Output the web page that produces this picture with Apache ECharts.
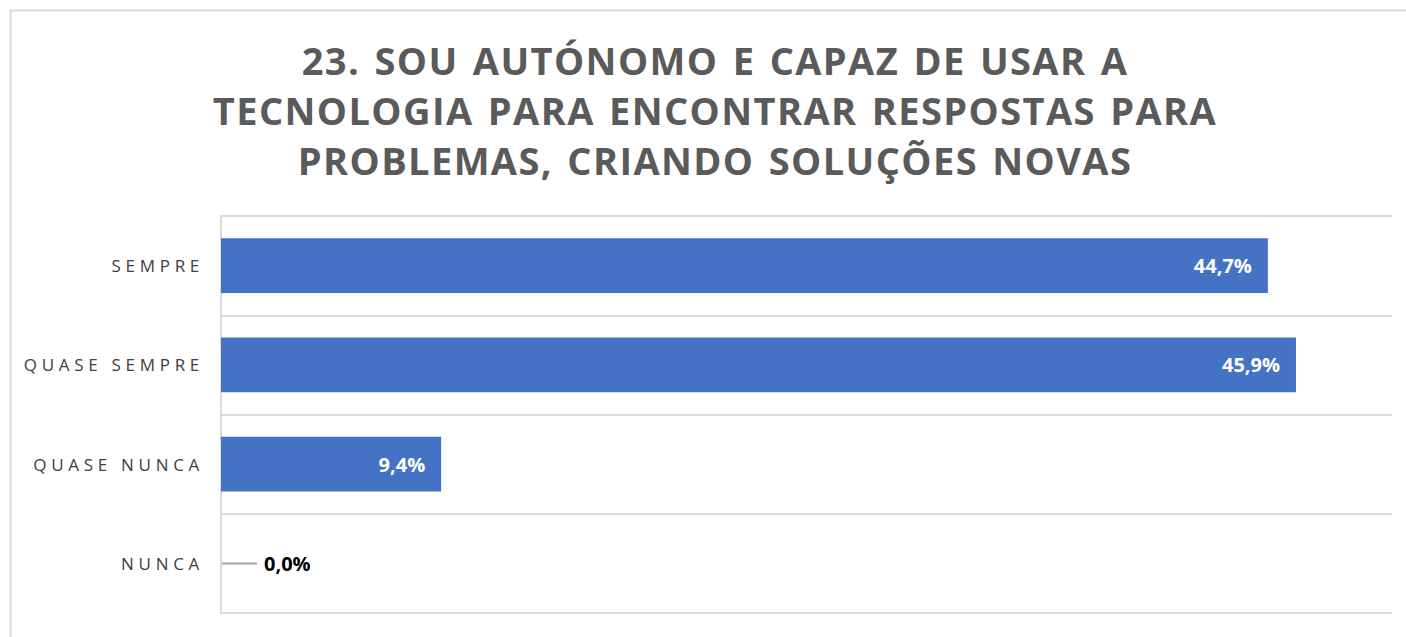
<!DOCTYPE html>
<html>
<head>
<meta charset="utf-8">
<script src="https://cdn.jsdelivr.net/npm/echarts@6/dist/echarts.min.js"></script>
<style>
html,body{margin:0;padding:0;background:#fff;}
#main{width:1406px;height:637px;}
</style>
</head>
<body>
<div id="main"></div>
<script>
const titleLines = [
  '23. SOU AUTÓNOMO E CAPAZ DE USAR A',
  'TECNOLOGIA PARA ENCONTRAR RESPOSTAS PARA',
  'PROBLEMAS, CRIANDO SOLUÇÕES NOVAS'
];
const categories = ['SEMPRE', 'QUASE SEMPRE', 'QUASE NUNCA', 'NUNCA'];
const values = [44.7, 45.9, 9.4, 0.0];

const fmt = v => v.toFixed(1).replace('.', ',') + '%';

const chart = echarts.init(document.getElementById('main'), null, {renderer: 'svg'});
chart.setOption({
  animation: false,
  backgroundColor: '#ffffff',
  graphic: [{
    type: 'rect', left: 8, top: 8, silent: true,
    shape: {width: 1430, height: 660},
    style: {fill: 'none', stroke: '#d9d9d9', lineWidth: 2}
  }],
  title: {
    text: titleLines.join('\n'),
    left: 710, top: 30, textAlign: 'center',
    textStyle: {
      fontFamily: 'Open Sans', fontWeight: 'bold', fontSize: 38,
      lineHeight: 50, color: '#5a5a5a'
    }
  },
  grid: {left: 221, right: 14, top: 216, bottom: 24, containLabel: false},
  xAxis: {
    type: 'value', min: 0, max: 50, show: false
  },
  yAxis: {
    type: 'category', data: categories, inverse: true,
    axisLine: {show: true, lineStyle: {color: '#d9d9d9', width: 2}},
    axisTick: {show: false},
    splitLine: {show: true, lineStyle: {color: '#d9d9d9', width: 2}},
    axisLabel: {
      margin: 17, color: '#404040',
      fontFamily: 'Open Sans', fontSize: 17
    }
  },
  series: [{
    type: 'bar',
    barWidth: '55%',
    itemStyle: {color: '#4472C4'},
    data: values.map(v => v === 0 ? {
      value: v,
      label: {
        position: 'right', distance: 1, color: '#000000',
        formatter: p => '{l|}{v|' + fmt(p.value) + '}',
        rich: {
          l: {width: 35, height: 2, backgroundColor: '#a6a6a6'},
          v: {padding: [0, 0, 0, 7], fontFamily: 'Open Sans', fontWeight: 'bold', fontSize: 20, color: '#000000'}
        }
      }
    } : v),
    label: {
      show: true, position: 'insideRight', distance: 16,
      color: '#ffffff', fontFamily: 'Open Sans', fontWeight: 'bold', fontSize: 20,
      formatter: p => fmt(p.value)
    }
  }]
});

// Letter spacing on title lines and category labels (as in the original)
document.querySelectorAll('#main text').forEach(t => {
  const s = t.textContent;
  if (titleLines.includes(s)) { t.style.letterSpacing = '1.4px'; t.style.wordSpacing = '3px'; }
  else if (categories.includes(s)) t.style.letterSpacing = '4.7px';
});
</script>
</body>
</html>
